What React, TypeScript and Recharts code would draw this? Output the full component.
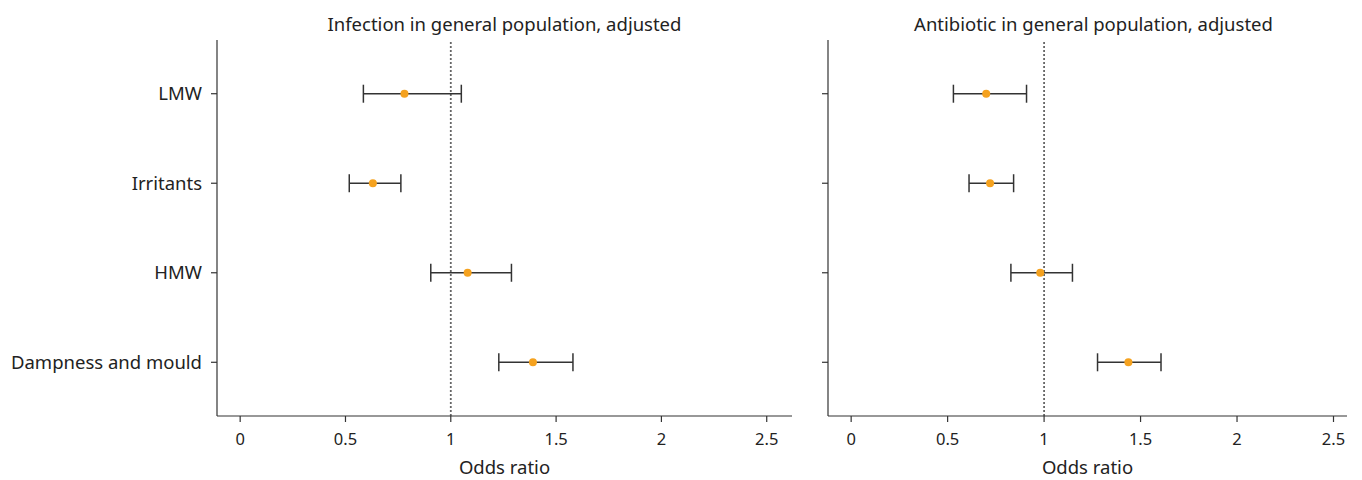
import React from 'react';
import { ScatterChart, Scatter, XAxis, YAxis, ErrorBar, ReferenceLine } from 'recharts';

const categories = ['LMW', 'Irritants', 'HMW', 'Dampness and mould'];
const xTicks = [0, 0.5, 1, 1.5, 2, 2.5];

const infectionOR = [0.78, 0.63, 1.08, 1.39];
const infectionLow = [0.585, 0.518, 0.905, 1.228];
const infectionHigh = [1.05, 0.763, 1.288, 1.58];

const antibioticOR = [0.70, 0.72, 0.98, 1.437];
const antibioticLow = [0.53, 0.611, 0.828, 1.277];
const antibioticHigh = [0.909, 0.842, 1.147, 1.606];

const FONT = '"Noto Sans", sans-serif';
const TEXT = '#222';
const LINE = '#333';
const ORANGE = '#f5a21f';

const build = (or: number[], lo: number[], hi: number[]) =>
  or.map((v, i) => ({ x: v, y: i, err: [v - lo[i], hi[i] - v] }));

const Dot = (props: any) => {
  const { cx, cy } = props;
  return <circle cx={cx} cy={cy} r={4} fill={ORANGE} />;
};

type PanelProps = {
  left: number;
  width: number;
  yWidth: number;
  rightMargin: number;
  domain: [number, number];
  data: any[];
  showLabels: boolean;
};

const Panel = ({ left, width, yWidth, rightMargin, domain, data, showLabels }: PanelProps) => (
  <div style={{ position: 'absolute', left, top: 0 }}>
    <ScatterChart
      width={width}
      height={480}
      margin={{ top: 40, right: rightMargin, bottom: 0, left: 0 }}
      style={{ fontFamily: FONT }}
    >
      <XAxis
        type="number"
        dataKey="x"
        domain={domain}
        allowDataOverflow
        ticks={xTicks}
        height={64}
        tickSize={6}
        tickMargin={11}
        stroke={LINE}
        strokeWidth={1.2}
        tick={{ fill: TEXT, fontSize: 16.5 }}
        label={{ value: 'Odds ratio', position: 'insideBottom', offset: 6, fill: TEXT, fontSize: 18.5 }}
      />
      <YAxis
        type="number"
        dataKey="y"
        domain={[-0.6, 3.6]}
        allowDataOverflow
        reversed
        ticks={[0, 1, 2, 3]}
        width={yWidth}
        tickSize={6}
        tickMargin={9}
        stroke={LINE}
        strokeWidth={1.2}
        tick={{ fill: TEXT, fontSize: 18.5 }}
        tickFormatter={(v: number) => (showLabels ? categories[v] : '')}
      />
      <ReferenceLine x={1} stroke="#666" strokeDasharray="2 2" strokeWidth={1.8} />
      <Scatter data={data} shape={<Dot />} isAnimationActive={false}>
        <ErrorBar dataKey="err" direction="x" width={9} stroke={LINE} strokeWidth={1.5} isAnimationActive={false} />
      </Scatter>
    </ScatterChart>
  </div>
);

export default function App() {
  return (
    <div style={{ position: 'absolute', left: 0, top: 0, width: 1362, height: 480, background: '#fff', fontFamily: FONT }}>
      <div style={{ position: 'absolute', left: 217, width: 575, top: 11, textAlign: 'center', fontSize: 18.5, color: TEXT, lineHeight: '26px' }}>
        Infection in general population, adjusted
      </div>
      <div style={{ position: 'absolute', left: 841, width: 505, top: 11, textAlign: 'center', fontSize: 18.5, color: TEXT, lineHeight: '26px' }}>
        Antibiotic in general population, adjusted
      </div>
      <Panel left={0} width={800} yWidth={217} rightMargin={8} domain={[-0.11, 2.62]} data={build(infectionOR, infectionLow, infectionHigh)} showLabels />
      <Panel left={800} width={562} yWidth={28} rightMargin={15} domain={[-0.12, 2.57]} data={build(antibioticOR, antibioticLow, antibioticHigh)} showLabels={false} />
    </div>
  );
}
